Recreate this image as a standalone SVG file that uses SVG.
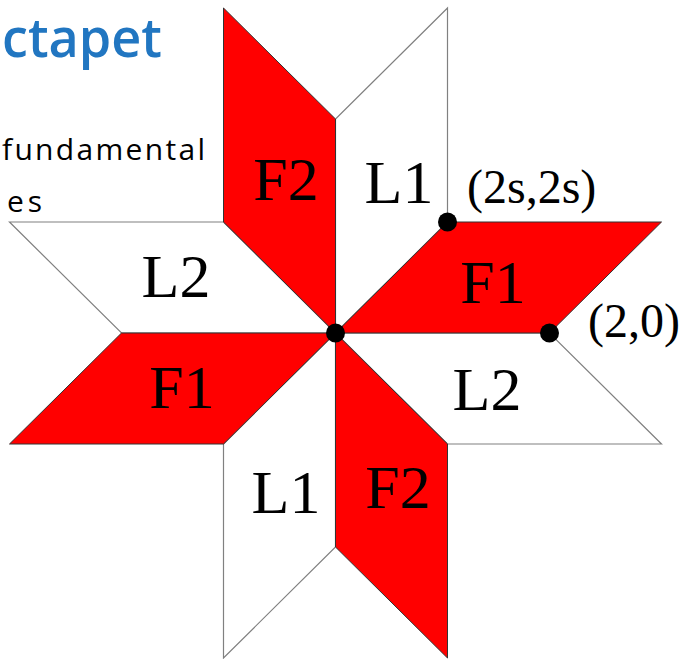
<svg xmlns="http://www.w3.org/2000/svg" width="683" height="659" viewBox="0 0 683 659">
<style>
.red{fill:#ff0000;stroke:#333;stroke-width:1;stroke-linejoin:miter}
.white{fill:#ffffff;stroke:#808080;stroke-width:1.2}
.lbl{font-family:"Liberation Serif","Times New Roman",serif;font-size:62px;fill:#000;text-anchor:middle}
.coord{font-family:"Liberation Serif","Times New Roman",serif;font-size:48px;fill:#000}
.dot{fill:#000}
.hand{font-family:"Open Sans","Noto Sans",sans-serif}
</style>
<rect width="683" height="659" fill="#fff"/>
<g id="notes">
<text class="hand" x="2" y="57" font-size="54" font-weight="600" fill="#2176c1" textLength="160" lengthAdjust="spacingAndGlyphs">ctapet</text>
<text class="hand" x="2" y="160" font-size="30" fill="#000" textLength="203" lengthAdjust="spacing">fundamental</text>
<text class="hand" x="7" y="212" font-size="30" fill="#000" textLength="35" lengthAdjust="spacing">es</text>
</g>
<g id="L1-top">
<polygon class="white" points="335.5,333 335.5,119 447.5,8 447.5,222"/>
<text class="lbl" x="399" y="203">L1</text>
</g>
<g id="L2-right">
<polygon class="white" points="335.5,333 549.5,333 661.5,444 447.5,444"/>
<text class="lbl" x="487" y="410">L2</text>
</g>
<g id="L1-bottom">
<polygon class="white" points="335.5,333 335.5,547 223.5,658 223.5,444"/>
<text class="lbl" x="286" y="513">L1</text>
</g>
<g id="L2-left">
<polygon class="white" points="335.5,333 121.5,333 9.5,222 223.5,222"/>
<text class="lbl" x="176" y="297">L2</text>
</g>
<g id="F2-top">
<polygon class="red" points="335.5,333 335.5,119 223.5,8 223.5,222"/>
<text class="lbl" x="286" y="200">F2</text>
</g>
<g id="F1-right">
<polygon class="red" points="335.5,333 447.5,222 661.5,222 549.5,333"/>
<text class="lbl" x="493" y="303">F1</text>
</g>
<g id="F2-bottom">
<polygon class="red" points="335.5,333 447.5,444 447.5,658 335.5,547"/>
<text class="lbl" x="398" y="508">F2</text>
</g>
<g id="F1-left">
<polygon class="red" points="335.5,333 223.5,444 9.5,444 121.5,333"/>
<text class="lbl" x="182" y="408">F1</text>
</g>
<g id="points">
<circle class="dot" cx="335.5" cy="333" r="9.5"/>
<circle class="dot" cx="447.5" cy="222" r="9.5"/>
<circle class="dot" cx="549.5" cy="333" r="9.5"/>
<text class="coord" x="467" y="203">(2s,2s)</text>
<text class="coord" x="588" y="337">(2,0)</text>
</g>
<g id="connectors"/>
</svg>
